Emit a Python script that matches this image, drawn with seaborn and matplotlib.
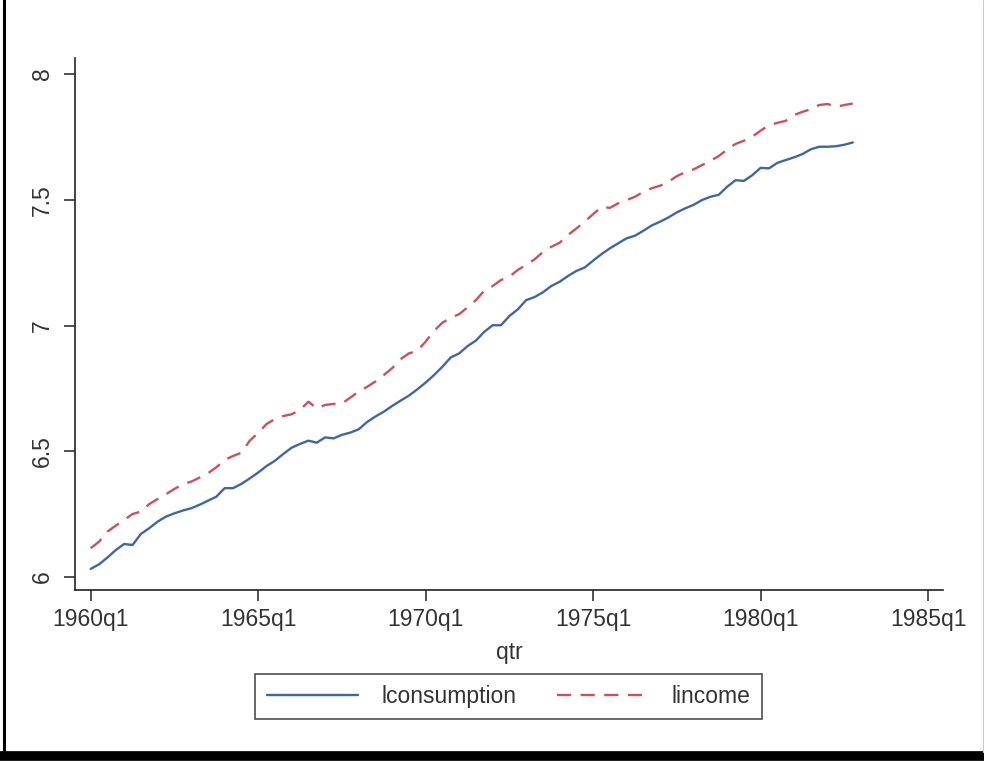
import numpy as np
import pandas as pd
import matplotlib
matplotlib.use("Agg")
import matplotlib.pyplot as plt
from matplotlib.lines import Line2D
import seaborn as sns

# Quarterly log consumption and log income, 1960q1 .. 1982q4
start_year = 1960
lconsumption = [
    6.032, 6.050, 6.077, 6.107, 6.131, 6.127, 6.171, 6.194, 6.220, 6.240,
    6.253, 6.264, 6.273, 6.287, 6.303, 6.319, 6.353, 6.353, 6.370, 6.392,
    6.415, 6.441, 6.462, 6.489, 6.514, 6.529, 6.542, 6.534, 6.555, 6.551,
    6.565, 6.574, 6.587, 6.616, 6.638, 6.657, 6.680, 6.701, 6.721, 6.746,
    6.773, 6.803, 6.836, 6.873, 6.889, 6.918, 6.940, 6.975, 7.001, 7.001,
    7.038, 7.064, 7.101, 7.113, 7.132, 7.157, 7.174, 7.197, 7.217, 7.231,
    7.258, 7.284, 7.307, 7.327, 7.347, 7.357, 7.377, 7.398, 7.413, 7.430,
    7.450, 7.466, 7.480, 7.499, 7.512, 7.520, 7.552, 7.578, 7.575, 7.598,
    7.627, 7.625, 7.647, 7.658, 7.669, 7.682, 7.701, 7.711, 7.711, 7.713,
    7.719, 7.728,
]
lincome = [
    6.114, 6.140, 6.180, 6.204, 6.227, 6.250, 6.260, 6.290, 6.310, 6.329,
    6.350, 6.369, 6.379, 6.395, 6.412, 6.436, 6.465, 6.481, 6.494, 6.542,
    6.573, 6.608, 6.628, 6.640, 6.647, 6.664, 6.697, 6.670, 6.684, 6.688,
    6.690, 6.713, 6.737, 6.756, 6.777, 6.803, 6.830, 6.866, 6.889, 6.899,
    6.936, 6.979, 7.011, 7.031, 7.045, 7.072, 7.101, 7.138, 7.157, 7.181,
    7.194, 7.221, 7.241, 7.263, 7.292, 7.313, 7.329, 7.360, 7.386, 7.413,
    7.443, 7.472, 7.468, 7.486, 7.499, 7.512, 7.532, 7.546, 7.556, 7.572,
    7.594, 7.610, 7.621, 7.638, 7.655, 7.674, 7.700, 7.722, 7.735, 7.751,
    7.775, 7.797, 7.806, 7.814, 7.837, 7.850, 7.860, 7.877, 7.881, 7.870,
    7.877, 7.883,
]
# quarter index counted from 1960q1
x_ticks = [0, 20, 40, 60, 80, 100]
x_tick_labels = ["1960q1", "1965q1", "1970q1", "1975q1", "1980q1", "1985q1"]
y_ticks = [6, 6.5, 7, 7.5, 8]
y_tick_labels = ["6", "6.5", "7", "7.5", "8"]

qtr = np.arange(len(lconsumption))
df = pd.DataFrame({"qtr": qtr, "lconsumption": lconsumption, "lincome": lincome})
long = df.melt(id_vars="qtr", var_name="series", value_name="value")

sns.set_style("white")
plt.rcParams["font.family"] = ["Liberation Sans", "DejaVu Sans"]

fig = plt.figure(figsize=(9.84, 7.61), dpi=100)
ax = fig.add_axes([0.0762, 0.2247, 0.8821, 0.6991])

palette = {"lconsumption": "#3f66a6", "lincome": "#c9525c"}
dashes = {"lconsumption": "", "lincome": (6, 4)}
sns.lineplot(data=long, x="qtr", y="value", hue="series", style="series",
             palette=palette, dashes=dashes, linewidth=1.7, ax=ax)

ax.set_xlim(-1.87, 101.77)
ax.set_ylim(5.948, 8.064)
ax.set_xticks(x_ticks)
ax.set_xticklabels(x_tick_labels)
ax.set_yticks(y_ticks)
ax.set_yticklabels(y_tick_labels, rotation=90, va="center")
ax.tick_params(axis="both", which="major", direction="out", length=8, width=1.1,
               color="#222222", labelsize=16.5, labelcolor="#333333", pad=5,
               left=True, bottom=True)
ax.tick_params(axis="y", pad=7)
ax.set_xlabel("qtr", fontsize=16.5, color="#333333", labelpad=7)
ax.set_ylabel("")
for side in ("top", "right"):
    ax.spines[side].set_visible(False)
for side in ("left", "bottom"):
    ax.spines[side].set_color("#222222")
    ax.spines[side].set_linewidth(1.2)

handles, labels = ax.get_legend_handles_labels()
ax.get_legend().remove()
leg = fig.legend(handles, labels, loc="center", bbox_to_anchor=(0.517, 0.0848),
                 ncol=2, fontsize=16.5, frameon=True, fancybox=False,
                 handlelength=4.0, handletextpad=1.0, columnspacing=1.8,
                 borderpad=0.5)
leg.get_frame().set_edgecolor("#222222")
leg.get_frame().set_linewidth(1.2)
for t in leg.get_texts():
    t.set_color("#333333")

# window frame: left rule, bottom bar, faint right edge
fig.add_artist(Line2D([0.004, 0.004], [0.01, 1.0], transform=fig.transFigure,
                      color="black", linewidth=2.2))
fig.add_artist(Line2D([0.0, 1.0], [0.006, 0.006], transform=fig.transFigure,
                      color="black", linewidth=7))
fig.add_artist(Line2D([0.9985, 0.9985], [0.012, 1.0], transform=fig.transFigure,
                      color="#cccccc", linewidth=0.8))

fig.savefig("out.png", dpi=100, facecolor="white")
